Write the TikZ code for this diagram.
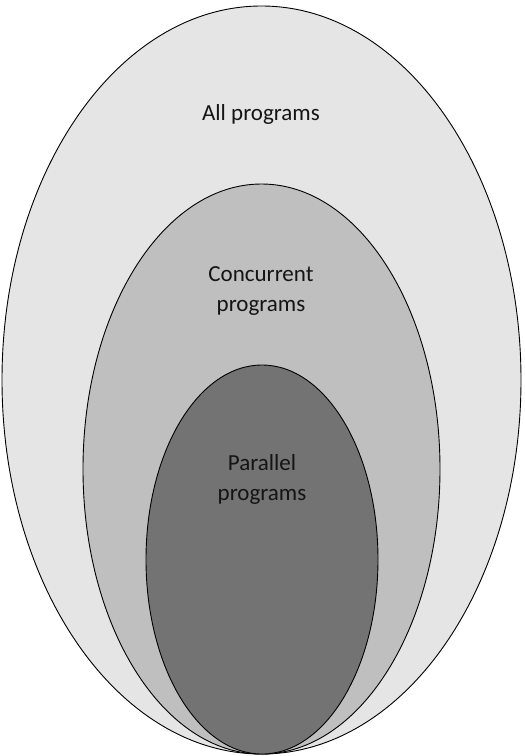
\documentclass[tikz,border=0pt]{standalone}
\usepackage{fontspec}
\setmainfont{Carlito}
\begin{document}
\begin{tikzpicture}[x=1pt,y=-1pt,
  setshape/.style={draw=black,line width=0.9pt},
  setlabel/.style={align=center,font=\fontsize{23}{30}\selectfont,text=black!92}]
\useasboundingbox (0,0) rectangle (525,756);
% nested sets, outermost first
\draw[setshape,fill=black!10] (261.5,380) ellipse [x radius=259.5,y radius=374];
\draw[setshape,fill=black!25] (261.5,469) ellipse [x radius=178.5,y radius=285];
\draw[setshape,fill=black!55] (262,559.5) ellipse [x radius=116,y radius=194.5];
% labels
\node[setlabel] (all) at (261,114) {All programs};
\node[setlabel] (conc) at (261,291) {Concurrent\\programs};
\node[setlabel] (par) at (262,479) {Parallel\\programs};
\end{tikzpicture}
\end{document}
